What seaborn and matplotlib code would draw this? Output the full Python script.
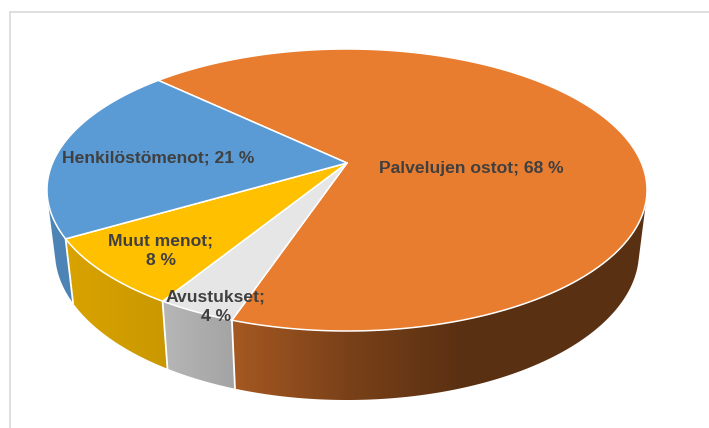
import numpy as np
import matplotlib
matplotlib.use("Agg")
import matplotlib.pyplot as plt
from matplotlib.patches import Polygon
import seaborn as sns

categories = ["Palvelujen ostot", "Avustukset", "Muut menot", "Henkilöstömenot"]
values = [68.1, 3.6, 7.8, 20.5]
percent_labels = ["68 %", "4 %", "8 %", "21 %"]

colors = sns.color_palette(["#E87C2F", "#E7E6E6", "#FFC000", "#5B9BD5"])
text_color = "#404040"
border_color = "#D9D9D9"

sns.set_theme(style="white")
plt.rcParams["font.family"] = ["Liberation Sans", "DejaVu Sans"]

W, H = 709, 428
fig = plt.figure(figsize=(W / 100, H / 100), dpi=100, facecolor="white")
ax = fig.add_axes([0, 0, 1, 1])

# perspective projection of the pie disk onto the screen
TOP = dict(cx=347.0, cy=190.0, rx=300.0, ry=141.0)
BOTTOM = dict(cx=347.0, cy=252.0, rx=292.0, ry=148.0)
APEX_Y = 163.0
B = (APEX_Y - TOP["cy"]) / TOP["ry"]
START = -46.5


def unit(phi_deg):
    phi = np.radians(phi_deg)
    u, v = np.sin(phi), -np.cos(phi)
    d = 1 + B * v
    return u * np.sqrt(1 - B * B) / d, (v + B) / d


def place(X, Y, e):
    return e["cx"] + e["rx"] * X, e["cy"] + e["ry"] * Y


shade_x = [50, 165, 235, 350, 460, 709]
shade_f = [0.86, 0.79, 0.71, 0.52, 0.39, 0.39]
xs = np.arange(W)

fracs = np.array(values) / np.sum(values) * 360
edges = START + np.concatenate([[0], np.cumsum(fracs)])
apex = place(0, B, TOP)

# side walls: horizontal gradient clipped to the front-facing rim band
for i, col in enumerate(colors):
    phi = np.linspace(edges[i], edges[i + 1], 1500)
    X, Y = unit(phi)
    tx, ty = place(X, Y, TOP)
    bx, by = place(X, Y, BOTTOM)
    cross = np.gradient(tx) * (by - ty) - np.gradient(ty) * (bx - tx)
    keep = cross < 0
    if keep.sum() < 2:
        continue
    verts = np.r_[np.c_[tx[keep], ty[keep]], np.c_[bx[keep], by[keep]][::-1]]
    clip = Polygon(verts, closed=True, transform=ax.transData, facecolor="none", edgecolor="none")
    ax.add_patch(clip)
    grad = np.outer(np.interp(xs, shade_x, shade_f), np.array(col))[None, :, :]
    im = ax.imshow(grad, extent=(0, W, H, 0), aspect="auto", interpolation="bilinear", zorder=2)
    im.set_clip_path(clip)

# white seams between the side walls
for e_phi in edges[1:-1]:
    X, Y = unit(e_phi)
    tx, ty = place(X, Y, TOP)
    bx, by = place(X, Y, BOTTOM)
    ax.plot([tx, bx], [ty, by], color="white", lw=1.3, zorder=3)

# top faces
for i, col in enumerate(colors):
    phi = np.linspace(edges[i], edges[i + 1], 300)
    X, Y = unit(phi)
    tx, ty = place(X, Y, TOP)
    ax.fill(np.r_[apex[0], tx], np.r_[apex[1], ty], facecolor=col,
            edgecolor="white", linewidth=1.1, joinstyle="round", zorder=4)

# chart-area border
ax.plot([W, 9.5, 9.5], [11.5, 11.5, H], color=border_color, lw=1.2, zorder=1,
        solid_joinstyle="miter")

label_pos = [(471, 169), (216, 307), (161, 251), (158, 158)]
wrapped = [False, True, True, False]
for cat, pct, (lx, ly), wrap in zip(categories, percent_labels, label_pos, wrapped):
    sep = ";\n" if wrap else "; "
    ax.text(lx, ly, f"{cat}{sep}{pct}", ha="center", va="center", fontsize=12.6,
            fontweight="bold", color=text_color, linespacing=1.4, zorder=6)

ax.set_xlim(0, W)
ax.set_ylim(H, 0)
ax.axis("off")
fig.savefig("out.png", dpi=100)
